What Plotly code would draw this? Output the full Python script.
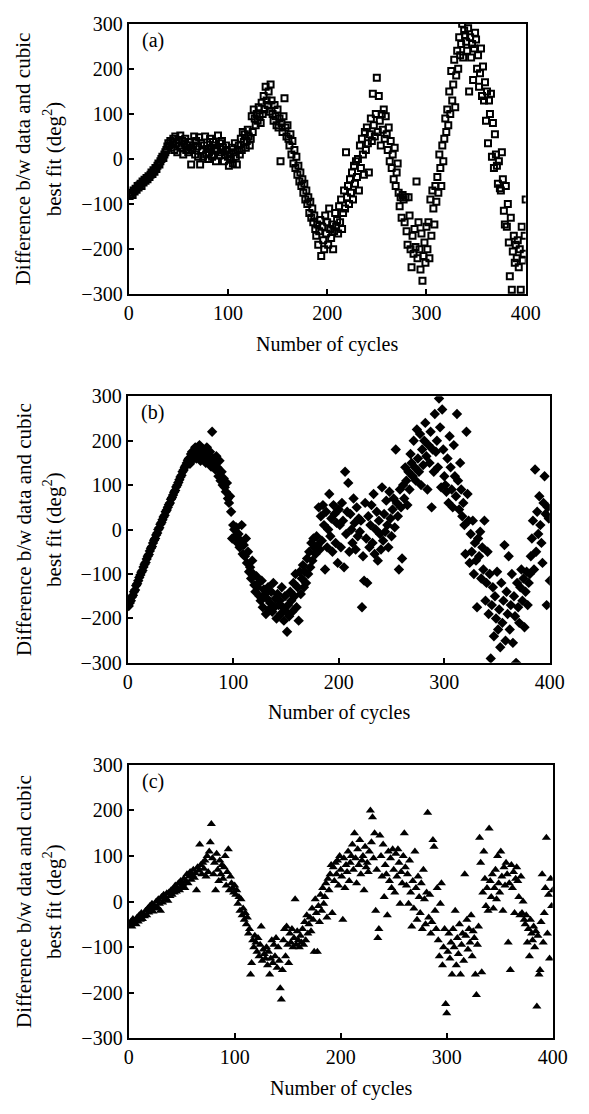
import plotly.graph_objects as go

# ---------------- data ----------------
cycles = list(range(1, 401))

diff_a = [
    -82,-78,-75,-80,-70,-72,-66,-68,-60,-63,
    -58,-55,-60,-50,-52,-46,-48,-42,-45,-38,
    -40,-35,-30,-33,-25,-28,-20,-22,-15,-10,
    -12,-5,0,5,2,10,15,20,28,35,
    30,40,25,38,45,20,50,35,15,42,
    30,52,25,40,10,35,45,20,30,15,
    38,25,-12,20,30,50,10,40,28,5,
    48,-12,35,20,5,30,50,10,22,0,
    15,45,25,5,38,10,30,-5,20,52,
    8,35,15,40,25,-5,10,30,20,5,
    -15,10,0,25,-10,15,35,5,-12,20,
    30,10,45,20,60,38,55,25,40,65,
    50,30,45,95,60,110,90,75,100,85,
    115,95,80,125,100,140,110,160,130,120,
    150,105,165,130,100,85,120,95,75,110,
    70,90,-5,80,60,95,135,70,50,75,
    45,30,55,10,40,-10,20,-20,5,-35,
    -15,-50,-30,-60,-45,-75,-55,-90,-70,-100,
    -85,-120,-95,-130,-110,-140,-125,-155,-170,-145,
    -190,-160,-135,-215,-150,-180,-200,-125,-165,-140,
    -190,-110,-155,-175,-145,-200,-160,-120,-150,-135,
    -165,-105,-140,-90,-155,-120,-70,-110,15,-85,
    -60,-100,-45,-75,-30,-90,-15,-55,-5,-40,
    0,-70,30,-20,45,10,-35,60,20,70,
    35,-30,55,90,40,145,75,50,100,180,
    60,140,85,30,100,65,110,45,95,55,
    20,70,-5,40,-20,10,-45,25,-60,-30,
    -10,-75,-105,-85,-130,-80,-90,-140,-85,-160,
    -190,-85,-125,-200,-240,-170,-210,-155,-195,-50,
    -220,-140,-200,-245,-165,-270,-215,-185,-230,-150,
    -200,-140,-220,-90,-170,-70,-110,-145,-60,-95,
    -40,-75,10,-20,-60,30,-5,45,90,60,
    110,75,150,100,195,130,165,220,115,185,
    240,200,270,230,255,300,225,285,275,260,
    240,290,150,270,225,255,175,245,280,265,
    200,230,160,190,245,140,205,130,170,85,
    150,35,130,100,145,5,80,-20,55,10,
    -15,-55,-5,-65,-70,15,-45,-115,-145,-60,
    -150,-100,-185,-260,-130,-290,-205,-170,-230,-190,
    -220,-180,-240,-200,-290,-150,-225,-210,-170,-90,
]

diff_b = [
    -172,-165,-160,-152,-148,-140,-136,-126,-122,-115,
    -108,-102,-96,-92,-84,-78,-74,-66,-60,-56,
    -48,-42,-38,-30,-24,-20,-12,-8,0,4,
    12,16,22,28,32,40,44,50,56,60,
    68,72,78,84,88,96,100,106,112,118,
    122,130,134,140,144,150,156,160,148,170,
    175,158,165,185,160,172,168,190,155,175,
    180,162,178,150,185,170,158,175,142,220,
    160,150,135,165,140,120,155,110,130,100,
    115,95,85,105,70,60,75,40,-20,10,
    0,-15,5,-30,-10,-40,-25,10,-55,-35,
    -60,-20,-75,-50,-95,-85,-110,-70,-100,-125,
    -140,-105,-130,-120,-150,-160,-115,-175,-135,-145,
    -190,-155,-130,-180,-165,-140,-185,-120,-175,-155,
    -200,-145,-170,-160,-190,-130,-175,-205,-150,-185,
    -230,-170,-195,-140,-160,-185,-120,-150,-100,-175,
    -130,-205,-95,-145,-110,-80,-130,-95,-120,-65,
    -100,-50,-85,-30,-70,-20,-40,-55,-15,-35,
    50,-45,30,-25,55,10,-90,40,-40,0,
    80,-15,25,-50,55,35,-30,15,-75,45,
    10,-40,60,20,-85,130,-10,40,105,-50,
    35,0,-30,70,15,-45,50,-15,25,-5,
    20,-175,-60,-115,60,-20,-120,30,-40,10,
    55,-30,80,-55,0,40,-70,20,-10,-45,
    95,-25,35,-5,65,10,-40,85,25,-15,
    45,70,5,180,60,30,-90,90,50,-65,
    100,70,140,110,55,130,90,170,150,120,
    200,140,110,225,160,130,215,100,180,145,
    200,240,165,90,190,150,220,50,180,130,
    260,175,200,140,295,230,95,270,180,120,
    100,85,160,60,210,140,90,50,190,120,
    75,260,110,45,150,90,30,60,10,-55,
    220,80,20,-75,-10,-50,20,-100,-30,-70,
    -175,-20,-60,-5,-110,-40,-90,20,-160,-120,
    -50,-190,-100,-290,-170,-130,-240,-150,-200,-95,
    -225,-180,-265,-120,-210,-160,-35,-250,-140,-190,
    -60,-225,-170,-100,-255,-150,-195,-300,-120,-175,
    -210,-130,-90,-160,-110,-220,-140,-95,-170,-120,
    -100,-60,-20,20,-90,135,-50,40,-10,75,
    10,-30,-75,60,120,35,-170,50,25,-115,
]

diff_c = [
    -52,-45,-55,-38,-48,-42,-50,-35,-44,-30,
    -40,-25,-38,-28,-32,-20,-30,-15,-24,-10,
    -18,-5,-22,-8,-15,0,-12,5,-5,-20,
    10,-2,15,5,8,18,2,20,12,25,
    15,28,20,35,22,30,40,25,45,32,
    38,50,30,45,60,40,55,65,48,58,
    70,52,62,25,75,68,125,80,60,85,
    72,90,55,100,65,110,130,170,95,60,
    85,25,105,70,45,90,60,80,50,75,
    100,35,65,115,25,55,40,30,20,35,
    15,25,-5,10,-20,5,-30,-15,-40,-25,
    -50,-35,-70,-60,-160,-135,-85,-100,-75,-90,
    -110,-80,-120,-95,-55,-130,-105,-115,-125,-100,
    -140,-110,-160,-125,-85,-135,-95,-120,-80,-145,
    -100,-130,-190,-215,-150,-85,-60,-120,-55,-95,
    -135,-70,-90,-60,-100,-80,5,-95,-65,-85,
    -100,-75,-90,-60,-95,-45,-85,-30,-70,-50,
    -35,-65,-15,-40,-110,5,-25,-110,-10,-45,
    15,-20,30,-5,10,40,-35,50,25,60,
    80,-25,75,45,85,60,90,35,100,70,
    55,-40,95,30,80,65,110,45,85,100,
    125,70,150,95,40,115,80,135,60,90,
    100,25,120,75,85,65,110,200,130,185,
    95,150,-20,70,-80,-60,145,100,55,125,
    10,80,60,-30,110,45,95,30,115,70,
    20,105,55,115,85,-5,65,40,100,150,
    75,35,60,-5,90,20,-55,45,-15,110,
    30,-40,55,10,-25,40,-60,70,5,-50,
    20,195,-35,15,-70,-45,135,120,-20,-60,
    30,-85,-120,-5,40,-140,-100,-60,-225,-245,
    -110,-70,-125,-90,-160,-60,-100,-20,-140,-80,
    -115,-50,-160,-95,-70,-130,60,-75,-40,-105,
    -60,-90,-30,-120,-65,-80,-160,-205,-95,-55,
    140,85,-155,20,110,50,-10,30,-20,160,
    45,10,60,-15,30,70,5,100,40,20,
    110,55,-20,75,35,85,60,-90,40,-150,
    80,30,65,-25,50,75,45,10,-30,55,
    -25,0,-40,-50,-30,-90,-60,-120,-40,-70,
    -85,-55,-100,-65,-230,-75,-160,-150,-45,60,
    -90,-25,30,140,-70,15,-125,50,-10,25,
]

x_ticks = [0, 100, 200, 300, 400]
y_ticks = [-300, -200, -100, 0, 100, 200, 300]
panel_labels = ["(a)", "(b)", "(c)"]
x_title = "Number of cycles"
y_title_1 = "Difference b/w data and cubic"
y_title_2 = "best fit (deg<sup>2</sup>)"

# ---------------- layout geometry (pixels) ----------------
W, H = 589, 1114
FONT = "Liberation Serif, Times New Roman, serif"
panels = [
    dict(x0=128, x1=539, y0=13, y1=289, sym="square-open", size=6, lw=2),
    dict(x0=127, x1=564, y0=393, y1=665, sym="diamond", size=8, lw=0),
    dict(x0=128, x1=567, y0=769, y1=1048, sym="triangle-up", size=8, lw=0),
]
series = [diff_a, diff_b, diff_c]

fig = go.Figure()
annotations = []
layout_axes = {}
for i, (p, ys) in enumerate(zip(panels, series)):
    n = "" if i == 0 else str(i + 1)
    xa, ya = "x" + n, "y" + n
    fig.add_trace(go.Scatter(
        x=cycles, y=ys, mode="markers", xaxis=xa, yaxis=ya,
        marker=dict(symbol=p["sym"], size=p["size"], color="black",
                    line=dict(color="black", width=p["lw"])),
        showlegend=False, cliponaxis=True,
    ))
    axis_common = dict(showline=True, linecolor="black", linewidth=2, mirror=True,
                       ticks="inside", ticklen=5, tickwidth=1.5, tickcolor="black",
                       showgrid=False, zeroline=False,
                       tickfont=dict(family=FONT, size=20, color="black"))
    layout_axes["xaxis" + n] = dict(
        axis_common, domain=[p["x0"] / W, p["x1"] / W], range=[0, 400],
        tickvals=x_ticks, anchor=ya)
    layout_axes["yaxis" + n] = dict(
        axis_common, domain=[1 - p["y1"] / H, 1 - p["y0"] / H], range=[-300, 300],
        tickvals=y_ticks, anchor=xa)
    ymid = 1 - (p["y0"] + p["y1"]) / 2 / H
    annotations += [
        dict(text=panel_labels[i], xref="paper", yref="paper",
             x=(p["x0"] + 12) / W, y=1 - (p["y0"] + 17) / H,
             xanchor="left", yanchor="middle", showarrow=False,
             font=dict(family=FONT, size=20, color="black")),
        dict(text=x_title, xref="paper", yref="paper",
             x=(p["x0"] + p["x1"]) / 2 / W, y=1 - (p["y1"] + 51) / H,
             xanchor="center", yanchor="middle", showarrow=False,
             font=dict(family=FONT, size=20, color="black")),
        dict(text=y_title_1, xref="paper", yref="paper", textangle=-90,
             x=19 / W, y=ymid, xanchor="center", yanchor="middle", showarrow=False,
             font=dict(family=FONT, size=21, color="black")),
        dict(text=y_title_2, xref="paper", yref="paper", textangle=-90,
             x=49 / W, y=ymid, xanchor="center", yanchor="middle", showarrow=False,
             font=dict(family=FONT, size=21, color="black")),
    ]

fig.update_layout(
    width=W, height=H, margin=dict(l=0, r=0, t=0, b=0),
    paper_bgcolor="white", plot_bgcolor="white",
    annotations=annotations, **layout_axes,
)
fig.write_html("out.html")
